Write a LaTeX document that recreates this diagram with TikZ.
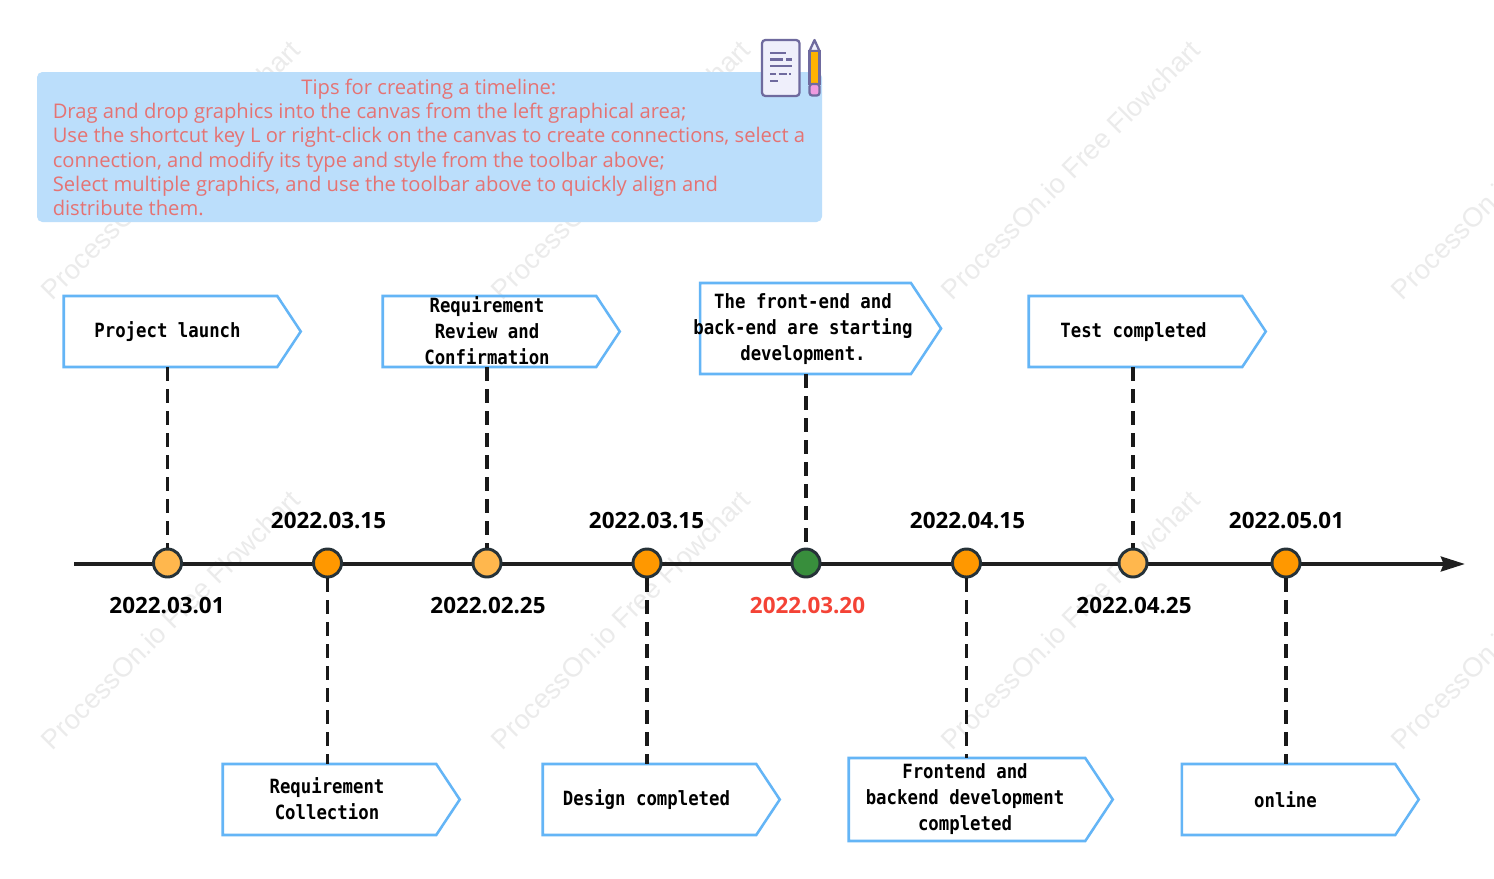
\documentclass[tikz,border=0pt]{standalone}
\usepackage{fontspec}
\setmainfont{Open Sans}
\newfontfamily\labelfont[FakeStretch=0.885]{DejaVu Sans Mono}
\newfontfamily\markfont{Liberation Sans}
\usetikzlibrary{arrows.meta,shapes.symbols}
\definecolor{tagblue}{HTML}{64B5F6}
\definecolor{tipblue}{HTML}{BBDEFB}
\definecolor{tipred}{HTML}{E57373}
\definecolor{dotdark}{HTML}{263238}
\definecolor{dotlight}{HTML}{FFB74D}
\definecolor{dotorange}{HTML}{FF9800}
\definecolor{dotgreen}{HTML}{388E3C}
\definecolor{iconline}{HTML}{6F6A9E}
\definecolor{iconpaper}{HTML}{EFEFFB}
\definecolor{iconyellow}{HTML}{FFB300}
\definecolor{iconpink}{HTML}{EE9BE0}
\tikzset{
  tagbox/.style={shape=signal,signal to=east,draw=tagblue,line width=1.9pt,inner sep=0pt,outer sep=0pt,signal pointer angle=113},
  taglabel/.style={font=\labelfont\bfseries\fontsize{14.7}{19.5}\selectfont,align=center,inner sep=0pt},
  datelabel/.style={font=\bfseries\fontsize{16.8}{18}\selectfont,inner sep=0pt},
  dot/.style={circle,draw=dotdark,line width=2.2pt,minimum size=21pt,inner sep=0pt},
  leader/.style={draw=black!90,line width=2.3pt,dash pattern=on 10.5pt off 6pt},
  watermark/.style={font=\markfont\fontsize{20.4}{24}\selectfont,text=black!8,rotate=45,inner sep=0pt},
  iconstroke/.style={draw=iconline,line width=1.7pt},
}
\begin{document}
\begin{tikzpicture}[x=0.75pt,y=0.75pt,yscale=-1]
\useasboundingbox (0,0) rectangle (1494,878);
\fill[white] (0,0) rectangle (1494,878);

%Watermarks
\begin{scope}
\clip (0,0) rectangle (1494,878);
\foreach \wx/\wy [count=\wi] in {170.5/170,620.5/170,1070.5/170,1520.5/170,170.5/620,620.5/620,1070.5/620,1520.5/620}
  \node[watermark] (mark\wi) at (\wx,\wy) {ProcessOn.io Free Flowchart};
\end{scope}

%Tips box
\node[fill=tipblue,rounded corners=4pt,minimum width=588.75pt,minimum height=112.5pt,inner sep=0pt] (tipbox) at (429.5,147) {};
\node[anchor=north west,inner sep=0pt,text=tipred,font=\fontsize{15.13}{18.2}\selectfont,align=left] (tiptext) at (52.5,78.7) {%
\hspace*{186.5pt}Tips for creating a timeline:\\
Drag and drop graphics into the canvas from the left graphical area;\\
Use the shortcut key L or right-click on the canvas to create connections, select a\\
connection, and modify its type and style from the toolbar above;\\
Select multiple graphics, and use the toolbar above to quickly align and\\
distribute them.};

%Icon: document
\draw[iconstroke,fill=iconpaper,rounded corners=2.5pt] (762,40) rectangle (799.5,96);
\foreach \ly/\la/\lb in {52.7/770/786,59.3/770/783,59.3/786/792,66/770/792,73.7/770/776,73.7/778.5/787,73.7/789/791,80.7/770/778}
  \draw[iconline,line width=1.8pt] (\la,\ly) -- (\lb,\ly);
%Icon: pencil
\draw[iconstroke,fill=iconpaper,line join=round] (809.5,51) -- (814.5,40) -- (819.5,51) -- cycle;
\draw[iconstroke,fill=iconyellow] (809.5,51) rectangle (819.5,84);
\draw[iconstroke,fill=iconpink,rounded corners=2pt] (809.5,84) -- (809.5,95.5) -- (819.5,95.5) -- (819.5,84) -- cycle;

%Time axis
\coordinate (axisstart) at (74,564);
\coordinate (axisend) at (1465,564);
\draw[black!88,line width=3pt,-{Stealth[length=18pt,width=11pt,inset=2pt]}] (axisstart) -- (axisend);

%Tags
\node[tagbox,minimum width=177.75pt,minimum height=53.25pt] (tagA) at (170.5,331.5) {};
\node[tagbox,minimum width=177.75pt,minimum height=53.25pt] (tagB) at (489.5,331.5) {};
\node[tagbox,minimum width=180.75pt,minimum height=68.25pt] (tagC) at (805.5,328.5) {};
\node[tagbox,minimum width=177.75pt,minimum height=53.25pt] (tagD) at (1135.5,331.5) {};
\node[tagbox,minimum width=177.75pt,minimum height=53.25pt] (tagE) at (329.5,799.5) {};
\node[tagbox,minimum width=177.75pt,minimum height=53.25pt] (tagF) at (649.5,799.5) {};
\node[tagbox,minimum width=198pt,minimum height=62.25pt] (tagG) at (967,799.5) {};
\node[tagbox,minimum width=177.75pt,minimum height=53.25pt] (tagH) at (1288.5,799.5) {};

%Dots
\node[dot,fill=dotlight] (dotA) at (167.5,563) {};
\node[dot,fill=dotorange] (dotE) at (327.5,563) {};
\node[dot,fill=dotlight] (dotB) at (487,563) {};
\node[dot,fill=dotorange] (dotF) at (647,563) {};
\node[dot,fill=dotgreen] (dotC) at (806,563) {};
\node[dot,fill=dotorange] (dotG) at (966.5,563) {};
\node[dot,fill=dotlight] (dotD) at (1133,563) {};
\node[dot,fill=dotorange] (dotH) at (1286,563) {};

%Leaders
\foreach \n in {A,B,C,D}
  \draw[leader] (dot\n.north |- tag\n.south) -- (dot\n.north);
\foreach \n in {E,F,G,H}
  \draw[leader] (dot\n.south) -- (dot\n.south |- tag\n.north);

% Text Node
\node[taglabel] (labA) at (167.5,332) {Project launch};
\node[taglabel] (labB) at (487,331) {Requirement\\Review and\\Confirmation};
\node[taglabel] (labC) at (803,329) {The front-end and\\back-end are starting\\development.};
\node[taglabel] (labD) at (1133.5,332) {Test completed};
\node[taglabel] (labE) at (327,799) {Requirement\\Collection};
\node[taglabel] (labF) at (646.5,800) {Design completed};
\node[taglabel] (labG) at (965,799.5) {Frontend and\\backend development\\completed};
\node[taglabel] (labH) at (1285.5,800) {online};

% Date Node
\node[datelabel] (dateE) at (328.5,521) {2022.03.15};
\node[datelabel] (dateF) at (646.5,521) {2022.03.15};
\node[datelabel] (dateG) at (967.5,521) {2022.04.15};
\node[datelabel] (dateH) at (1286.5,521) {2022.05.01};
\node[datelabel] (dateA) at (167,606) {2022.03.01};
\node[datelabel] (dateB) at (488,606) {2022.02.25};
\node[datelabel,text={rgb,255:red,244;green,67;blue,54}] (dateC) at (807.5,606) {2022.03.20};
\node[datelabel] (dateD) at (1134,606) {2022.04.25};
\end{tikzpicture}
\end{document}
